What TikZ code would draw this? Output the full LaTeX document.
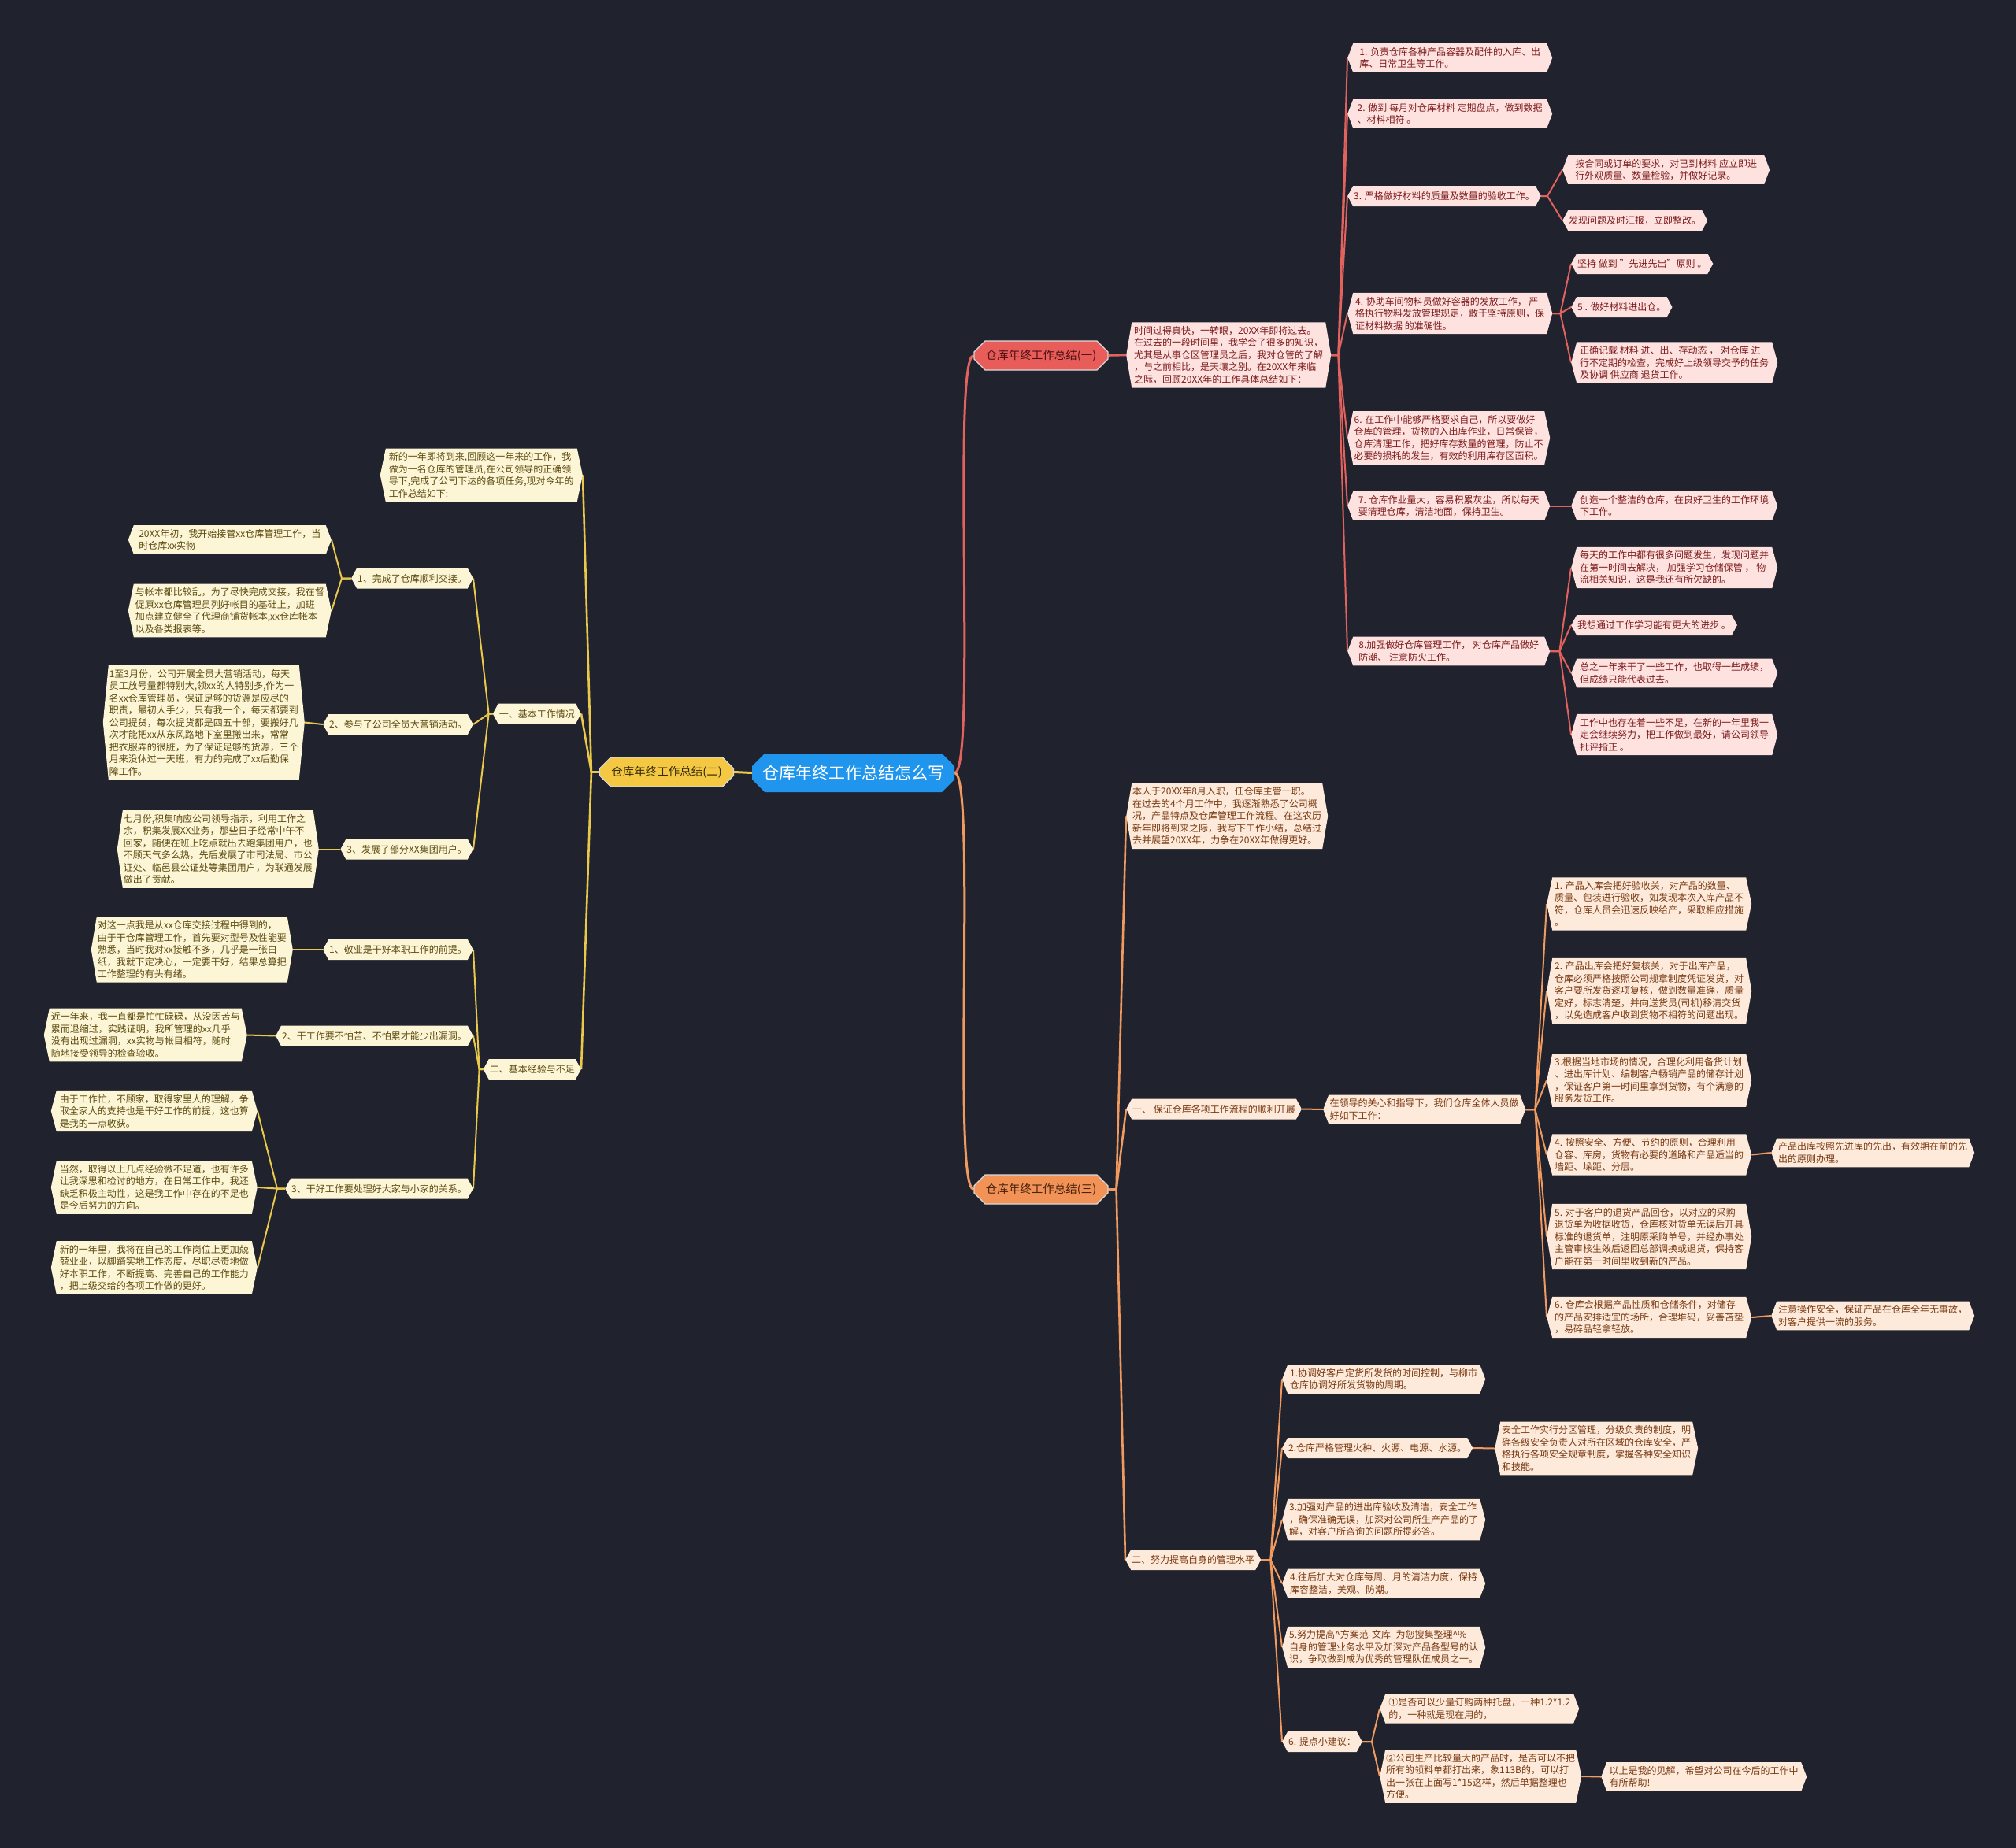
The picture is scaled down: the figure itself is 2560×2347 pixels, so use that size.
\documentclass[tikz,border=0pt]{standalone}
\usepackage{fontspec}
\setmainfont{Noto Sans CJK SC}
\usetikzlibrary{shapes.misc}
\definecolor{bgc}{HTML}{20232E}
\definecolor{fillA}{HTML}{FDE2E0}
\definecolor{textA}{HTML}{7E1C1C}
\definecolor{lineA}{HTML}{E2625E}
\definecolor{nodeA}{HTML}{E85C5A}
\definecolor{fillB}{HTML}{FDF6D6}
\definecolor{textB}{HTML}{5C4A10}
\definecolor{lineB}{HTML}{E9C84C}
\definecolor{nodeB}{HTML}{F4C842}
\definecolor{fillC}{HTML}{FDEADB}
\definecolor{textC}{HTML}{7A3A12}
\definecolor{lineC}{HTML}{F09A60}
\definecolor{nodeC}{HTML}{F29257}
\definecolor{centerc}{HTML}{1F95EE}
\pgfdeclarelayer{bg}
\pgfdeclarelayer{lines}
\pgfsetlayers{bg,lines,main}
\tikzset{
  hexfill/.style={path picture={
    \fill[#1] (path picture bounding box.west)
      -- ([xshift=7pt]path picture bounding box.north west)
      -- ([xshift=-7pt]path picture bounding box.north east)
      -- (path picture bounding box.east)
      -- ([xshift=-7pt]path picture bounding box.south east)
      -- ([xshift=7pt]path picture bounding box.south west) -- cycle;}},
  leafbase/.style={font=\fontsize{12}{15.5}\selectfont, align=left, inner xsep=8pt, inner ysep=5pt, minimum height=26pt},
  leafA/.style={leafbase, text=textA, hexfill=fillA},
  leafB/.style={leafbase, text=textB, hexfill=fillB},
  leafC/.style={leafbase, text=textC, hexfill=fillC},
  branch/.style={chamfered rectangle, chamfered rectangle xsep=7pt, chamfered rectangle ysep=7pt,
    draw=white!85!black, line width=1.2pt, minimum width=170pt, minimum height=37pt, inner sep=3pt,
    font=\fontsize{14.5}{17}\selectfont},
  lnA/.style={draw=lineA, line width=2pt},
  lnB/.style={draw=lineB, line width=2pt},
  lnC/.style={draw=lineC, line width=2pt},
}
\begin{document}
\begin{tikzpicture}[x=1pt,y=-1pt]
\useasboundingbox (0,0) rectangle (2560,2347);
\begin{pgfonlayer}{bg}
\fill[bgc] (0,0) rectangle (2560,2347);
\end{pgfonlayer}

% center and branches
\node[chamfered rectangle, chamfered rectangle xsep=8pt, chamfered rectangle ysep=8pt, fill=centerc,
  minimum width=257pt, minimum height=49pt,
  text=white, font=\fontsize{21}{24}\selectfont] (C) at (1083.5,981.5) {仓库年终工作总结怎么写};
\node[branch, fill=nodeA, text=textA!60!black] (B1) at (1322,451.5) {仓库年终工作总结(一)};
\node[branch, fill=nodeB, text=textB!60!black] (B2) at (846.5,980.5) {仓库年终工作总结(二)};
\node[branch, fill=nodeC, text=textC!60!black] (B3) at (1322,1510.5) {仓库年终工作总结(三)};

% ---------- branch one ----------
\node[leafA, anchor=west, minimum width=260pt] (T1) at (1430,451) {时间过得真快，一转眼，20XX年即将过去。\\在过去的一段时间里，我学会了很多的知识，\\尤其是从事仓区管理员之后，我对仓管的了解\\，与之前相比，是天壤之别。在20XX年来临\\之际，回顾20XX年的工作具体总结如下：};
\node[leafA, anchor=west, minimum width=260pt] (A1) at (1711,73.5) {1. 负责仓库各种产品容器及配件的入库、出\\库、日常卫生等工作。};
\node[leafA, anchor=west, minimum width=260pt] (A2) at (1711,144.5) {2. 做到 每月对仓库材料 定期盘点，做到数据\\、材料相符 。};
\node[leafA, anchor=west] (A3) at (1711,249) {3. 严格做好材料的质量及数量的验收工作。};
\node[leafA, anchor=west, minimum width=263pt] (A3a) at (1984,215.5) {按合同或订单的要求，对已到材料 应立即进\\行外观质量、数量检验，并做好记录。};
\node[leafA, anchor=west] (A3b) at (1984,280) {发现问题及时汇报，立即整改。};
\node[leafA, anchor=west, minimum width=260pt] (A4) at (1711,398) {4. 协助车间物料员做好容器的发放工作， 严\\格执行物料发放管理规定，敢于坚持原则，保\\证材料数据 的准确性。};
\node[leafA, anchor=west] (A4a) at (1995,335) {坚持 做到 "先进先出"原则 。};
\node[leafA, anchor=west] (A4b) at (1995,390) {5 . 做好材料进出仓。};
\node[leafA, anchor=west, minimum width=262pt] (A4c) at (1995,460.5) {正确记载 材料 进、出、存动态 ， 对仓库 进\\行不定期的检查，完成好上级领导交予的任务\\及协调 供应商 退货工作。};
\node[leafA, anchor=west, minimum width=257pt] (A6) at (1711,556) {6. 在工作中能够严格要求自己，所以要做好\\仓库的管理，货物的入出库作业，日常保管，\\仓库清理工作，把好库存数量的管理，防止不\\必要的损耗的发生，有效的利用库存区面积。};
\node[leafA, anchor=west, minimum width=257pt] (A7) at (1711,642.5) {7. 仓库作业量大，容易积累灰尘，所以每天\\要清理仓库，清洁地面，保持卫生。};
\node[leafA, anchor=west, minimum width=262pt] (A7a) at (1995,642.5) {创造一个整洁的仓库，在良好卫生的工作环境\\下工作。};
\node[leafA, anchor=west, minimum width=257pt] (A8) at (1711,827) {8.加强做好仓库管理工作， 对仓库产品做好\\防潮、 注意防火工作。};
\node[leafA, anchor=west, minimum width=262pt] (A8a) at (1995,721) {每天的工作中都有很多问题发生，发现问题并\\在第一时间去解决， 加强学习仓储保管 ， 物\\流相关知识，这是我还有所欠缺的。};
\node[leafA, anchor=west] (A8b) at (1995,794) {我想通过工作学习能有更大的进步 。};
\node[leafA, anchor=west, minimum width=262pt] (A8c) at (1995,855) {总之一年来干了一些工作，也取得一些成绩，\\但成绩只能代表过去。};
\node[leafA, anchor=west, minimum width=262pt] (A8d) at (1995,933) {工作中也存在着一些不足，在新的一年里我一\\定会继续努力，把工作做到最好，请公司领导\\批评指正 。};

% ---------- branch three ----------
\node[leafC, anchor=west, minimum width=255pt] (C0) at (1430,1036.5) {本人于20XX年8月入职，任仓库主管一职。\\在过去的4个月工作中，我逐渐熟悉了公司概\\况，产品特点及仓库管理工作流程。在这农历\\新年即将到来之际，我写下工作小结，总结过\\去并展望20XX年，力争在20XX年做得更好。};
\node[leafC, anchor=west] (C1) at (1430,1408.5) {一、 保证仓库各项工作流程的顺利开展};
\node[leafC, anchor=west, minimum width=257pt] (C1a) at (1680,1409) {在领导的关心和指导下，我们仓库全体人员做\\好如下工作：};
\node[leafC, anchor=west, minimum width=260pt] (D1) at (1964,1148) {1. 产品入库会把好验收关，对产品的数量、\\质量、包装进行验收，如发现本次入库产品不\\符，仓库人员会迅速反映给产，采取相应措施\\。};
\node[leafC, anchor=west, minimum width=260pt] (D2) at (1964,1258.5) {2. 产品出库会把好复核关，对于出库产品，\\仓库必须严格按照公司规章制度凭证发货，对\\客户要所发货逐项复核，做到数量准确，质量\\定好，标志清楚，并向送货员(司机)移清交货\\，以免造成客户收到货物不相符的问题出现。};
\node[leafC, anchor=west, minimum width=260pt] (D3) at (1964,1372) {3.根据当地市场的情况，合理化利用备货计划\\、进出库计划、编制客户畅销产品的储存计划\\，保证客户第一时间里拿到货物，有个满意的\\服务发货工作。};
\node[leafC, anchor=west, minimum width=260pt] (D4) at (1964,1466.5) {4. 按照安全、方便、节约的原则，合理利用\\仓容、库房，货物有必要的道路和产品适当的\\墙距、垛距、分层。};
\node[leafC, anchor=west, minimum width=258pt] (D4a) at (2249,1464) {产品出库按照先进库的先出，有效期在前的先\\出的原则办理。};
\node[leafC, anchor=west, minimum width=260pt] (D5) at (1964,1570.5) {5. 对于客户的退货产品回仓，以对应的采购\\退货单为收据收货，仓库核对货单无误后开具\\标准的退货单，注明原采购单号，并经办事处\\主管审核生效后返回总部调换或退货，保持客\\户能在第一时间里收到新的产品。};
\node[leafC, anchor=west, minimum width=260pt] (D6) at (1964,1673) {6. 仓库会根据产品性质和仓储条件，对储存\\的产品安排适宜的场所，合理堆码，妥善苫垫\\，易碎品轻拿轻放。};
\node[leafC, anchor=west, minimum width=258pt] (D6a) at (2249,1671) {注意操作安全，保证产品在仓库全年无事故，\\对客户提供一流的服务。};
\node[leafC, anchor=west] (C2) at (1429,1981) {二、努力提高自身的管理水平};
\node[leafC, anchor=west, minimum width=258pt] (E1) at (1628,1751.5) {1.协调好客户定货所发货的时间控制，与柳市\\仓库协调好所发货物的周期。};
\node[leafC, anchor=west] (E2) at (1628,1839) {2.仓库严格管理火种、火源、电源、水源。};
\node[leafC, anchor=west, minimum width=258pt] (E2a) at (1898,1839.5) {安全工作实行分区管理，分级负责的制度，明\\确各级安全负责人对所在区域的仓库安全，严\\格执行各项安全规章制度，掌握各种安全知识\\和技能。};
\node[leafC, anchor=west, minimum width=258pt] (E3) at (1628,1930) {3.加强对产品的进出库验收及清洁，安全工作\\，确保准确无误，加深对公司所生产产品的了\\解，对客户所咨询的问题所提必答。};
\node[leafC, anchor=west, minimum width=258pt] (E4) at (1628,2011) {4.往后加大对仓库每周、月的清洁力度，保持\\库容整洁，美观、防潮。};
\node[leafC, anchor=west, minimum width=258pt] (E5) at (1628,2092) {5.努力提高\textasciicircum 方案范-文库\_为您搜集整理\textasciicircum \%\\自身的管理业务水平及加深对产品各型号的认\\识，争取做到成为优秀的管理队伍成员之一。};
\node[leafC, anchor=west] (E6) at (1628,2212) {6. 提点小建议：};
\node[leafC, anchor=west, minimum width=253pt] (F1) at (1752,2170) {①是否可以少量订购两种托盘，一种1.2*1.2\\的，一种就是现在用的，};
\node[leafC, anchor=west, minimum width=253pt] (F2) at (1752,2256) {②公司生产比较量大的产品时，是否可以不把\\所有的领料单都打出来，象113B的，可以打\\出一张在上面写1*15这样，然后单据整理也\\方便。};
\node[leafC, anchor=west, minimum width=261pt] (F2a) at (2033,2256.5) {以上是我的见解，希望对公司在今后的工作中\\有所帮助!};

% ---------- branch two (left) ----------
\node[leafB, anchor=east, minimum width=257pt] (L0) at (740,603.5) {新的一年即将到来,回顾这一年来的工作，我\\做为一名仓库的管理员,在公司领导的正确领\\导下,完成了公司下达的各项任务,现对今年的\\工作总结如下:};
\node[leafB, anchor=east] (L1) at (738,906.5) {一、基本工作情况};
\node[leafB, anchor=east] (L1a) at (601,734.5) {1、完成了仓库顺利交接。};
\node[leafB, anchor=east, minimum width=258pt] (L1a1) at (421,685.5) {20XX年初，我开始接管xx仓库管理工作，当\\时仓库xx实物};
\node[leafB, anchor=east, minimum width=258pt] (L1a2) at (421,775.5) {与帐本都比较乱，为了尽快完成交接，我在督\\促原xx仓库管理员列好帐目的基础上，加班\\加点建立健全了代理商铺货帐本,xx仓库帐本\\以及各类报表等。};
\node[leafB, anchor=east] (L1b) at (601,920) {2、参与了公司全员大营销活动。};
\node[leafB, anchor=east, minimum width=256pt] (L1b1) at (387,917.5) {1至3月份，公司开展全员大营销活动，每天\\员工放号量都特别大,领xx的人特别多,作为一\\名xx仓库管理员，保证足够的货源是应尽的\\职责，最初人手少，只有我一个，每天都要到\\公司提货，每次提货都是四五十部，要搬好几\\次才能把xx从东风路地下室里搬出来，常常\\把衣服弄的很脏，为了保证足够的货源，三个\\月来没休过一天班，有力的完成了xx后勤保\\障工作。};
\node[leafB, anchor=east] (L1c) at (601,1078.5) {3、发展了部分XX集团用户。};
\node[leafB, anchor=east, minimum width=256pt] (L1c1) at (405,1078.5) {七月份,积集响应公司领导指示，利用工作之\\余，积集发展XX业务，那些日子经常中午不\\回家，随便在班上吃点就出去跑集团用户，也\\不顾天气多么热，先后发展了市司法局、市公\\证处、临邑县公证处等集团用户，为联通发展\\做出了贡献。};
\node[leafB, anchor=east] (L2) at (738,1358) {二、基本经验与不足};
\node[leafB, anchor=east] (L2a) at (601,1206) {1、敬业是干好本职工作的前提。};
\node[leafB, anchor=east, minimum width=256pt] (L2a1) at (372,1206) {对这一点我是从xx仓库交接过程中得到的，\\由于干仓库管理工作，首先要对型号及性能要\\熟悉，当时我对xx接触不多，几乎是一张白\\纸，我就下定决心，一定要干好，结果总算把\\工作整理的有头有绪。};
\node[leafB, anchor=east] (L2b) at (601,1315.5) {2、干工作要不怕苦、不怕累才能少出漏洞。};
\node[leafB, anchor=east, minimum width=258pt] (L2b1) at (314,1314.5) {近一年来，我一直都是忙忙碌碌，从没因苦与\\累而退缩过，实践证明，我所管理的xx几乎\\没有出现过漏洞，xx实物与帐目相符，随时\\随地接受领导的检查验收。};
\node[leafB, anchor=east] (L2c) at (601,1509.5) {3、干好工作要处理好大家与小家的关系。};
\node[leafB, anchor=east, minimum width=262pt] (L2c1) at (327,1411) {由于工作忙，不顾家，取得家里人的理解，争\\取全家人的支持也是干好工作的前提，这也算\\是我的一点收获。};
\node[leafB, anchor=east, minimum width=262pt] (L2c2) at (327,1508) {当然，取得以上几点经验微不足道，也有许多\\让我深思和检讨的地方，在日常工作中，我还\\缺乏积极主动性，这是我工作中存在的不足也\\是今后努力的方向。};
\node[leafB, anchor=east, minimum width=262pt] (L2c3) at (327,1610) {新的一年里，我将在自己的工作岗位上更加兢\\兢业业，以脚踏实地工作态度，尽职尽责地做\\好本职工作，不断提高、完善自己的工作能力\\，把上级交给的各项工作做的更好。};

% ---------- connectors ----------
\begin{pgfonlayer}{lines}
\draw[lnA, line width=3pt] (C.east) .. controls +(28,0) and +(-28,0) .. (B1.west);
\draw[lnC, line width=3pt] (C.east) .. controls +(28,0) and +(-28,0) .. (B3.west);
\draw[lnB, line width=3pt] (C.west) -- (B2.east);
% one
\draw[lnA, line width=2.6pt] (B1.east) -- (T1.west);
\foreach \c in {A1,A2,A3,A4,A6,A7,A8} \draw[lnA] (T1.east) -- ++(9,0) -- (\c.west);
\foreach \c in {A3a,A3b} \draw[lnA] (A3.east) -- ++(8,0) -- (\c.west);
\foreach \c in {A4a,A4b,A4c} \draw[lnA] (A4.east) -- ++(10,0) -- (\c.west);
\draw[lnA] (A7.east) -- (A7a.west);
\foreach \c in {A8a,A8b,A8c,A8d} \draw[lnA] (A8.east) -- ++(12,0) -- (\c.west);
% three
\foreach \c in {C0,C1,C2} \draw[lnC, line width=2.6pt] (B3.east) -- ++(10,0) -- (\c.west);
\draw[lnC] (C1.east) -- (C1a.west);
\foreach \c in {D1,D2,D3,D4,D5,D6} \draw[lnC] (C1a.east) -- ++(12,0) -- (\c.west);
\draw[lnC] (D4.east) -- (D4a.west);
\draw[lnC] (D6.east) -- (D6a.west);
\foreach \c in {E1,E2,E3,E4,E5,E6} \draw[lnC] (C2.east) -- ++(12,0) -- (\c.west);
\draw[lnC] (E2.east) -- (E2a.west);
\foreach \c in {F1,F2} \draw[lnC] (E6.east) -- ++(12,0) -- (\c.west);
\draw[lnC] (F2.east) -- (F2a.west);
% two
\foreach \c in {L0,L1,L2} \draw[lnB, line width=2.6pt] (B2.west) -- ++(-10,0) -- (\c.east);
\foreach \c in {L1a,L1b,L1c} \draw[lnB] (L1.west) -- ++(-5,0) -- (\c.east);
\foreach \c in {L1a1,L1a2} \draw[lnB] (L1a.west) -- ++(-12,0) -- (\c.east);
\draw[lnB] (L1b.west) -- (L1b1.east);
\draw[lnB] (L1c.west) -- (L1c1.east);
\foreach \c in {L2a,L2b,L2c} \draw[lnB] (L2.west) -- ++(-5,0) -- (\c.east);
\draw[lnB] (L2a.west) -- (L2a1.east);
\draw[lnB] (L2b.west) -- (L2b1.east);
\foreach \c in {L2c1,L2c2,L2c3} \draw[lnB] (L2c.west) -- ++(-10,0) -- (\c.east);
\end{pgfonlayer}
\end{tikzpicture}
\end{document}
